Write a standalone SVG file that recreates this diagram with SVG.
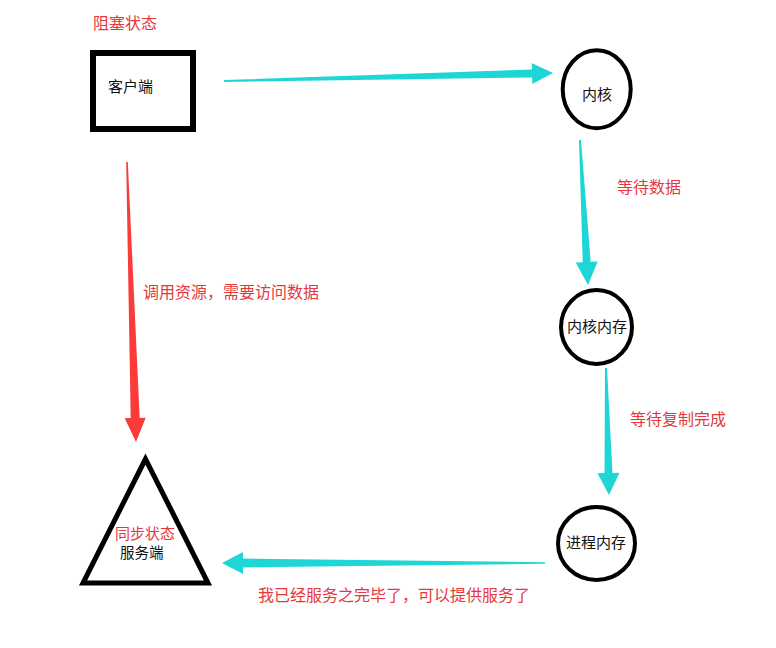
<svg xmlns="http://www.w3.org/2000/svg" width="776" height="648" viewBox="0 0 776 648">
<style>
  .node { fill: #ffffff; stroke: #000000; }
  .lbl { font-family: "Noto Sans CJK SC", "Noto Sans", sans-serif; font-size: 15px; fill: #111111; }
  .red { font-family: "Noto Sans CJK SC", "Noto Sans", sans-serif; font-size: 16px; fill: #e5383b; }
  .cyan { fill: #1fd6d6; }
  .redarrow { fill: #fb3a3a; }
</style>
<rect width="776" height="648" fill="#ffffff"/>
<g id="connectors">
  <polygon class="cyan" points="224,80 532,69.5 531.7,63 553,73 532.3,84 532.1,77.5 224,82"/>
  <polygon class="cyan" points="579,140 582.7,262.2 575.7,262.6 588,285 597.7,261.4 590.7,261.8 581,140"/>
  <polygon class="cyan" points="605,368 604.5,473.1 597.5,473.3 609,495 619.5,472.7 612.5,472.9 607,368"/>
  <polygon class="cyan" points="545,562.3 243,558.5 243,552 222,563 243,574 243,567.5 545,563.7"/>
  <polygon class="redarrow" points="126.2,162 130.7,418.1 124.7,418.3 136,442 145.7,417.7 139.7,417.9 127.8,162"/>
  <text class="red" x="617" y="193">等待数据</text>
  <text class="red" x="630" y="425">等待复制完成</text>
  <text class="red" x="143" y="298">调用资源，需要访问数据</text>
  <text class="red" x="258" y="601">我已经服务之完毕了，可以提供服务了</text>
</g>
<g id="client">
  <text class="red" x="93" y="29">阻塞状态</text>
  <rect class="node" x="93" y="53" width="100" height="76" stroke-width="6"/>
  <text class="lbl" x="108" y="92">客户端</text>
</g>
<g id="kernel">
  <ellipse class="node" cx="596.7" cy="89.2" rx="34" ry="39" stroke-width="4"/>
  <text class="lbl" x="597" y="100" text-anchor="middle">内核</text>
</g>
<g id="kernel-memory">
  <ellipse class="node" cx="596.5" cy="327" rx="35.5" ry="37" stroke-width="4"/>
  <text class="lbl" x="597" y="332" text-anchor="middle">内核内存</text>
</g>
<g id="process-memory">
  <ellipse class="node" cx="596.5" cy="543.5" rx="38.5" ry="36.5" stroke-width="4"/>
  <text class="lbl" x="596" y="548" text-anchor="middle">进程内存</text>
</g>
<g id="server">
  <polygon class="node" points="145.5,459 83,583 208,583" stroke-width="5" stroke-linejoin="miter"/>
  <text class="red" x="115" y="539" style="font-size:15px">同步状态</text>
  <text class="lbl" x="120" y="558" style="font-size:14.5px">服务端</text>
</g>
</svg>
